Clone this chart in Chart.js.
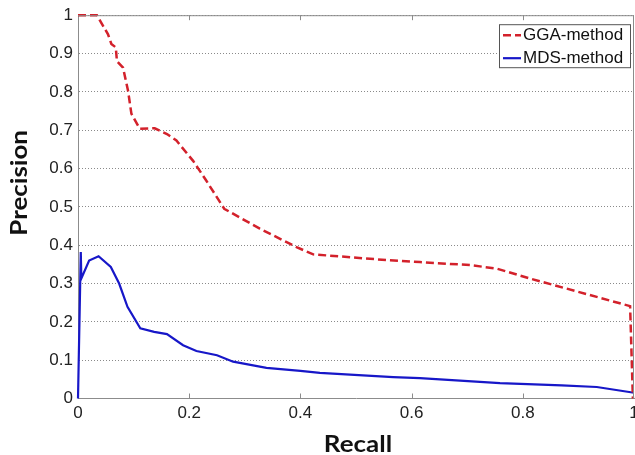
<!DOCTYPE html>
<html>
<head>
<meta charset="utf-8">
<script src="https://cdn.jsdelivr.net/npm/chart.js@4.4.1/dist/chart.umd.min.js"></script>
<style>
  html, body { margin: 0; padding: 0; background: #fff; }
  #wrap { width: 635px; height: 455px; }
</style>
</head>
<body>
<div id="wrap"><canvas id="prChart" width="635" height="455"></canvas></div>
<script>
// Precision / recall points
const ggaRecall    = [0, 0.034, 0.054, 0.06, 0.068, 0.07, 0.081, 0.09, 0.096, 0.111, 0.138, 0.16, 0.177, 0.207, 0.23, 0.263, 0.327, 0.393, 0.423, 0.495, 0.555, 0.615, 0.705, 0.753, 0.813, 0.993, 0.998];
const ggaPrecision = [1, 1, 0.95, 0.925, 0.916, 0.88, 0.863, 0.803, 0.743, 0.704, 0.705, 0.69, 0.673, 0.62, 0.57, 0.495, 0.443, 0.395, 0.376, 0.368, 0.361, 0.356, 0.348, 0.339, 0.313, 0.241, 0];

const mdsRecall    = [0, 0.005, 0.006, 0.02, 0.037, 0.059, 0.074, 0.089, 0.112, 0.137, 0.16, 0.189, 0.213, 0.25, 0.279, 0.339, 0.4, 0.435, 0.567, 0.615, 0.759, 0.87, 0.933, 1.0];
const mdsPrecision = [0, 0.382, 0.313, 0.36, 0.371, 0.343, 0.3, 0.239, 0.183, 0.174, 0.168, 0.139, 0.124, 0.113, 0.096, 0.08, 0.072, 0.067, 0.056, 0.053, 0.04, 0.034, 0.03, 0.015];

const seriesNames = ['GGA-method', 'MDS-method'];
const xTicks = [0, 0.2, 0.4, 0.6, 0.8, 1];
const xTitle = 'Recall';
const yTitle = 'Precision';

const toPoints = (xs, ys) => xs.map((x, i) => ({ x: x, y: ys[i] }));
const fmt = v => String(+Number(v).toFixed(1));

// frame on top/right + small inward ticks, like the matlab box
const framePlugin = {
  id: 'frame',
  afterDraw(chart) {
    const { ctx, chartArea: a, scales } = chart;
    ctx.save();
    ctx.strokeStyle = '#8c8c8c';
    ctx.lineWidth = 1;
    ctx.setLineDash([]);
    ctx.beginPath();
    ctx.moveTo(a.left, a.top + 0.5);
    ctx.lineTo(a.right, a.top + 0.5);
    ctx.moveTo(a.right - 0.5, a.top);
    ctx.lineTo(a.right - 0.5, a.bottom);
    xTicks.slice(1, -1).forEach(v => {
      const px = Math.round(scales.x.getPixelForValue(v)) + 0.5;
      ctx.moveTo(px, a.bottom);
      ctx.lineTo(px, a.bottom - 5);
      ctx.moveTo(px, a.top);
      ctx.lineTo(px, a.top + 5);
    });
    ctx.stroke();
    ctx.restore();
  }
};

// axis titles: bold, a bit stretched along the text like the original
const axisTitles = {
  id: 'axisTitles',
  afterDraw(chart) {
    const { ctx, chartArea: a } = chart;
    const stretch = 1.18;
    ctx.save();
    ctx.font = 'bold 22px Lato, "Open Sans", sans-serif';
    ctx.fillStyle = '#111';
    ctx.textAlign = 'center';
    ctx.textBaseline = 'alphabetic';

    ctx.save();
    ctx.translate((a.left + a.right) / 2 + 2, chart.height - 3);
    ctx.scale(stretch, 1);
    ctx.fillText(xTitle, 0, 0);
    ctx.restore();

    ctx.save();
    ctx.translate(27, (a.top + a.bottom) / 2 - 24);
    ctx.rotate(-Math.PI / 2);
    ctx.scale(stretch, 1);
    ctx.fillText(yTitle, 0, 0);
    ctx.restore();

    ctx.restore();
  }
};

// boxed legend in the upper right corner of the plot
const boxLegend = {
  id: 'boxLegend',
  afterDraw(chart) {
    const { ctx, chartArea: a } = chart;
    const right = a.right - 3, top = a.top + 9;
    const w = 132, h = 44;
    const left = right - w;
    ctx.save();
    ctx.fillStyle = '#fff';
    ctx.fillRect(left, top, w, h);
    ctx.strokeStyle = '#555';
    ctx.lineWidth = 1;
    ctx.strokeRect(left + 0.5, top + 0.5, w - 1, h - 1);
    ctx.font = '17px "Liberation Sans", Arial, sans-serif';
    ctx.textBaseline = 'middle';
    chart.data.datasets.forEach((ds, i) => {
      const y = top + 11 + i * 23;
      ctx.strokeStyle = ds.borderColor;
      ctx.lineWidth = ds.borderWidth;
      ctx.setLineDash(ds.borderDash || []);
      ctx.beginPath();
      ctx.moveTo(left + 4, y);
      ctx.lineTo(left + 22, y);
      ctx.stroke();
      ctx.setLineDash([]);
      ctx.fillStyle = '#111';
      ctx.fillText(ds.label, left + 24, y);
    });
    ctx.restore();
  }
};

const ctx = document.getElementById('prChart').getContext('2d');
const prChart = new Chart(ctx, {
  type: 'line',
  data: {
    datasets: [{
      label: seriesNames[0],
      data: toPoints(ggaRecall, ggaPrecision),
      borderColor: '#d3212b',
      borderWidth: 2.5,
      borderDash: [8, 4],
      pointRadius: 0,
      tension: 0,
      fill: false,
      clip: false
    }, {
      label: seriesNames[1],
      data: toPoints(mdsRecall, mdsPrecision),
      borderColor: '#1717c8',
      borderWidth: 2.2,
      pointRadius: 0,
      tension: 0,
      fill: false,
      clip: false
    }]
  },
  options: {
    responsive: false,
    animation: false,
    devicePixelRatio: 1,
    layout: { padding: { top: 14, right: 1, left: 0, bottom: 0 } },
    plugins: {
      legend: { display: false },
      tooltip: { enabled: false }
    },
    scales: {
      x: {
        type: 'linear',
        min: 0,
        max: 1,
        ticks: {
          stepSize: 0.2,
          padding: 5,
          color: '#222',
          font: { family: '"Liberation Sans", Arial, sans-serif', size: 17 },
          callback: fmt,
          maxRotation: 0
        },
        grid: { display: false, drawTicks: false },
        border: { display: true, color: '#8c8c8c', width: 1 },
        afterFit(s) { s.paddingRight = 0; s.paddingLeft = 0; s.height = 56.5; }
      },
      y: {
        min: 0,
        max: 1,
        ticks: {
          stepSize: 0.1,
          padding: 5,
          color: '#222',
          font: { family: '"Liberation Sans", Arial, sans-serif', size: 17 },
          callback: fmt
        },
        grid: { color: '#8a8a8a', lineWidth: 1, drawTicks: false },
        border: { display: true, color: '#8c8c8c', width: 1, dash: [1, 2] },
        afterFit(s) { s.width = 78; }
      }
    }
  },
  plugins: [framePlugin, axisTitles, boxLegend]
});
</script>
</body>
</html>
